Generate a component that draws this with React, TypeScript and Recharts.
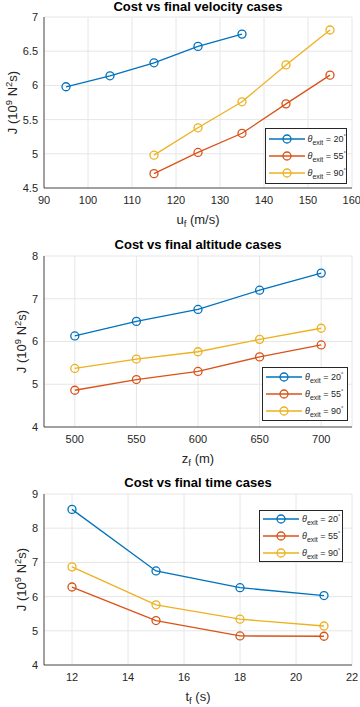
import { CartesianGrid, Line, LineChart, XAxis, YAxis } from "recharts";

const BLUE = "#0072BD";
const RED = "#D95319";
const YELLOW = "#EDB120";
const INK = "#262626";
const GRID = "#e6e6e6";
const FONT = "'Liberation Sans', Arial, Helvetica, sans-serif";

// exit angles (deg) used in every case
const exitAngles = [20, 55, 90];

// final velocity cases
const velocityX20 = [95, 105, 115, 125, 135];
const velocityJ20 = [5.98, 6.14, 6.33, 6.57, 6.75];
const velocityX55 = [115, 125, 135, 145, 155];
const velocityJ55 = [4.71, 5.02, 5.3, 5.73, 6.15];
const velocityX90 = [115, 125, 135, 145, 155];
const velocityJ90 = [4.98, 5.38, 5.76, 6.3, 6.81];
const velocityXTicks = [90, 100, 110, 120, 130, 140, 150, 160];
const velocityYTicks = [4.5, 5, 5.5, 6, 6.5, 7];

// final altitude cases
const altitudeX = [500, 550, 600, 650, 700];
const altitudeJ20 = [6.13, 6.47, 6.75, 7.2, 7.6];
const altitudeJ55 = [4.86, 5.11, 5.3, 5.64, 5.92];
const altitudeJ90 = [5.37, 5.59, 5.76, 6.05, 6.31];
const altitudeXTicks = [500, 550, 600, 650, 700];
const altitudeYTicks = [4, 5, 6, 7, 8];

// final time cases
const timeX = [12, 15, 18, 21];
const timeJ20 = [8.55, 6.75, 6.26, 6.03];
const timeJ55 = [6.28, 5.3, 4.85, 4.84];
const timeJ90 = [6.87, 5.76, 5.34, 5.14];
const timeXTicks = [12, 14, 16, 18, 20, 22];
const timeYTicks = [4, 5, 6, 7, 8, 9];

type Pt = { x: number; y: number };
const zip = (xs: number[], ys: number[]): Pt[] => xs.map((x, i) => ({ x, y: ys[i] }));

interface Series {
  color: string;
  angle: number;
  data: Pt[];
}

interface SubplotProps {
  title: string;
  height: number;
  top: number;
  bottom: number;
  titleTop: number;
  yLabelX: number;
  xDomain: [number, number];
  xTicks: number[];
  yDomain: [number, number];
  yTicks: number[];
  xVar: string;
  xUnit: string;
  series: Series[];
  legend: { left: number; top: number; width: number; height: number };
}

function YLabel({ viewBox, x }: any) {
  const cy = viewBox.y + viewBox.height / 2;
  return (
    <text
      x={x}
      y={cy}
      transform={`rotate(-90, ${x}, ${cy})`}
      textAnchor="middle"
      fill={INK}
      fontSize={13}
      fontFamily={FONT}
    >
      J (10
      <tspan dy={-5} fontSize={9.5}>9</tspan>
      <tspan dy={5}> N</tspan>
      <tspan dy={-5} fontSize={9.5}>2</tspan>
      <tspan dy={5}>s)</tspan>
    </text>
  );
}

function XLabel({ viewBox, v, unit }: any) {
  const cx = viewBox.x + viewBox.width / 2;
  const y = viewBox.y + 36;
  return (
    <text x={cx} y={y} textAnchor="middle" fill={INK} fontSize={13} fontFamily={FONT}>
      {v}
      <tspan dy={3} fontSize={9.5}>f</tspan>
      <tspan dy={-3}> {unit}</tspan>
    </text>
  );
}

function LegendBox({ series, box }: { series: Series[]; box: SubplotProps["legend"] }) {
  return (
    <div
      style={{
        position: "absolute",
        left: box.left,
        top: box.top,
        width: box.width,
        height: box.height,
        boxSizing: "border-box",
        border: `1px solid ${INK}`,
        background: "#fff",
        display: "flex",
        flexDirection: "column",
        justifyContent: "center",
        gap: 2,
        fontFamily: FONT,
        fontSize: 9,
        color: INK,
      }}
    >
      {series.map((s) => (
        <div key={s.angle} style={{ display: "flex", alignItems: "center", height: 15 }}>
          <svg width={40} height={12} style={{ marginLeft: 2 }}>
            <line x1={1} x2={37} y1={6} y2={6} stroke={s.color} strokeWidth={1.3} />
            <circle cx={19} cy={6} r={4} fill="none" stroke={s.color} strokeWidth={1.3} />
          </svg>
          <span style={{ whiteSpace: "nowrap" }}>
            <i>θ</i>
            <sub style={{ fontSize: 7 }}>exit</sub> = {s.angle}
            <sup style={{ fontSize: 6 }}>°</sup>
          </span>
        </div>
      ))}
    </div>
  );
}

function Subplot(p: SubplotProps) {
  const tick = { fill: INK, fontSize: 11, fontFamily: FONT };
  return (
    <div style={{ position: "relative", width: 360, height: p.height }}>
      <div
        style={{
          position: "absolute",
          left: 44,
          width: 308,
          top: p.titleTop,
          textAlign: "center",
          fontFamily: FONT,
          fontWeight: "bold",
          fontSize: 13,
          lineHeight: "14px",
          color: "#000",
          whiteSpace: "nowrap",
        }}
      >
        {p.title}
      </div>
      <LineChart
        width={360}
        height={p.height}
        margin={{ top: p.top, right: 8, left: 0, bottom: 0 }}
      >
        <CartesianGrid stroke={GRID} strokeWidth={1} />
        <XAxis
          type="number"
          dataKey="x"
          domain={p.xDomain}
          ticks={p.xTicks}
          allowDataOverflow
          height={p.bottom}
          tick={tick}
          tickLine={false}
          tickSize={0}
          tickMargin={8}
          stroke={INK}
          strokeWidth={0.8}
          label={{ content: (lp: any) => <XLabel viewBox={lp.viewBox} v={p.xVar} unit={p.xUnit} /> }}
        />
        <YAxis
          type="number"
          dataKey="y"
          domain={p.yDomain}
          ticks={p.yTicks}
          allowDataOverflow
          width={44}
          tick={tick}
          tickLine={false}
          tickSize={0}
          tickMargin={6}
          stroke={INK}
          strokeWidth={0.8}
          label={{ content: (lp: any) => <YLabel viewBox={lp.viewBox} x={p.yLabelX} /> }}
        />
        {p.series.map((s) => (
          <Line
            key={s.angle}
            data={s.data}
            dataKey="y"
            type="linear"
            stroke={s.color}
            strokeWidth={1.3}
            dot={{ r: 4, fill: "none", stroke: s.color, strokeWidth: 1.3 }}
            activeDot={false}
            isAnimationActive={false}
          />
        ))}
      </LineChart>
      <LegendBox series={p.series} box={p.legend} />
    </div>
  );
}

const colors = [BLUE, RED, YELLOW];

export default function App() {
  const velocitySeries: Series[] = [
    zip(velocityX20, velocityJ20),
    zip(velocityX55, velocityJ55),
    zip(velocityX90, velocityJ90),
  ].map((data, i) => ({ data, color: colors[i], angle: exitAngles[i] }));
  const altitudeSeries: Series[] = [
    zip(altitudeX, altitudeJ20),
    zip(altitudeX, altitudeJ55),
    zip(altitudeX, altitudeJ90),
  ].map((data, i) => ({ data, color: colors[i], angle: exitAngles[i] }));
  const timeSeries: Series[] = [
    zip(timeX, timeJ20),
    zip(timeX, timeJ55),
    zip(timeX, timeJ90),
  ].map((data, i) => ({ data, color: colors[i], angle: exitAngles[i] }));

  return (
    <div style={{ position: "absolute", left: 0, top: 0, width: 360, height: 707, background: "#fff" }}>
      <Subplot
        title="Cost vs final velocity cases"
        height={235}
        top={17}
        bottom={47}
        titleTop={0}
        yLabelX={16.5}
        xDomain={[90, 160]}
        xTicks={velocityXTicks}
        yDomain={[4.5, 7]}
        yTicks={velocityYTicks}
        xVar="u"
        xUnit="(m/s)"
        series={velocitySeries}
        legend={{ left: 265, top: 128, width: 82, height: 56 }}
      />
      <Subplot
        title="Cost vs final altitude cases"
        height={235}
        top={21}
        bottom={43}
        titleTop={3}
        yLabelX={26}
        xDomain={[475, 725]}
        xTicks={altitudeXTicks}
        yDomain={[4, 8]}
        yTicks={altitudeYTicks}
        xVar="z"
        xUnit="(m)"
        series={altitudeSeries}
        legend={{ left: 262, top: 132, width: 86, height: 54 }}
      />
      <Subplot
        title="Cost vs final time cases"
        height={237}
        top={24}
        bottom={42}
        titleTop={6}
        yLabelX={26}
        xDomain={[11, 22]}
        xTicks={timeXTicks}
        yDomain={[4, 9]}
        yTicks={timeYTicks}
        xVar="t"
        xUnit="(s)"
        series={timeSeries}
        legend={{ left: 259, top: 40, width: 84, height: 52 }}
      />
    </div>
  );
}
